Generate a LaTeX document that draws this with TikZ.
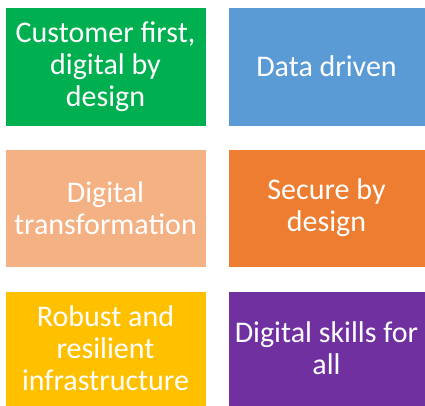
\documentclass[tikz,border=0pt]{standalone}
\usepackage{fontspec}
\setmainfont{Carlito}
\definecolor{boxgreen}{HTML}{00B050}
\definecolor{boxblue}{HTML}{5B9BD5}
\definecolor{boxpeach}{HTML}{F4B183}
\definecolor{boxorange}{HTML}{ED7D31}
\definecolor{boxgold}{HTML}{FFC000}
\definecolor{boxpurple}{HTML}{7030A0}
\tikzset{
	goalbox/.style={draw=white, line width=0.6pt, text=white, align=center, inner sep=0pt,
		minimum width=#1, font=\fontsize{30}{32}\selectfont},
	goalbox/.default=201pt
}

\begin{document}
\begin{tikzpicture}[x=1pt, y=-1pt]
			%%%%% START %%%%%
			
			\useasboundingbox (0, 0) rectangle (425, 406);
			
			\node[goalbox, fill=boxgreen, minimum height=119pt] (customer) at (105.5, 66.5) {Customer first,\\digital by\\design};
			\node[goalbox=197pt, fill=boxblue, minimum height=119pt] (data) at (326.5, 66.5) {Data driven};
			
			\node[goalbox, fill=boxpeach, minimum height=118pt] (transform) at (105.5, 208) {Digital\\transformation};
			\node[goalbox=197pt, fill=boxorange, minimum height=118pt] (secure) at (326.5, 208) {Secure by\\design};
			
			\node[goalbox, fill=boxgold, minimum height=115pt] (robust) at (105.5, 348.5) {Robust and\\resilient\\infrastructure};
			\node[goalbox=197pt, fill=boxpurple, minimum height=115pt] (skills) at (326.5, 348.5) {Digital skills for\\all};
			
			%%%%% END %%%%%
		\end{tikzpicture}
\end{document}
